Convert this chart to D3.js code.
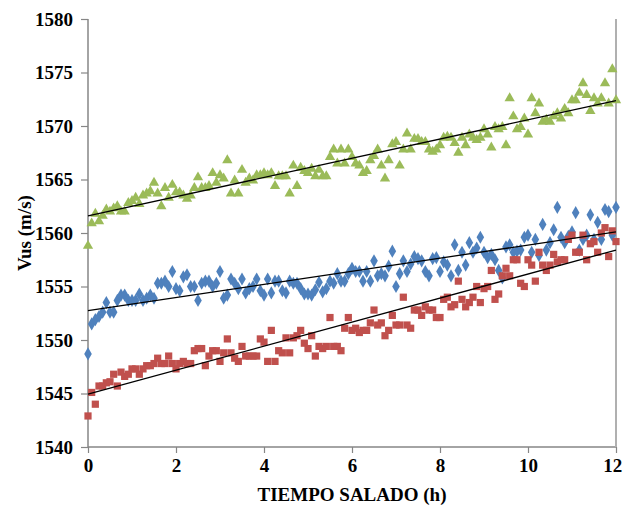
<!DOCTYPE html>
<html><head><meta charset="utf-8">
<script src="https://cdn.jsdelivr.net/npm/d3@7"></script>
<style>
html,body{margin:0;padding:0;background:#fff;}
svg{display:block;font-family:"Times New Roman","Liberation Serif",serif;}
</style></head>
<body><svg id="c" width="624" height="510"></svg>
<script>
// time step: 5 minutes (1/12 h), 145 samples from 0 to 12 h
const stepsPerHour = 12;
const xTicks = [0, 2, 4, 6, 8, 10, 12];
const yTicks = [1540, 1545, 1550, 1555, 1560, 1565, 1570, 1575, 1580];

const greenValues = [
1558.8,1560.9,1561.8,1561.1,1561.6,1562.2,1562.0,1562.3,1562.5,1562.0,
1562.0,1562.8,1563.0,1563.3,1562.7,1563.5,1563.7,1563.9,1564.7,1563.7,
1562.5,1564.2,1563.3,1564.5,1563.8,1563.8,1563.5,1563.2,1563.5,1564.2,
1565.2,1564.2,1564.2,1564.4,1565.6,1564.7,1565.4,1565.1,1566.8,1563.7,
1564.9,1563.7,1565.9,1564.7,1565.1,1564.9,1565.4,1565.4,1565.6,
1565.4,1565.6,1564.4,1565.3,1565.3,1565.3,1563.7,1566.3,1564.4,1566.1,
1565.8,1565.6,1566.0,1565.3,1565.9,1565.3,1565.3,1567.1,1567.8,1566.5,
1567.8,1566.5,1567.8,1567.1,1566.5,1566.3,1565.6,1565.8,1566.8,1567.2,
1567.8,1566.3,1565.1,1566.8,1568.3,1568.5,1566.3,1567.8,1569.3,1567.8,
1568.8,1568.8,1568.5,1568.5,1567.8,1567.6,1567.8,1568.2,
1568.9,1569.0,1568.9,1568.4,1567.5,1568.9,1568.2,1569.2,1568.9,1568.7,
1568.9,1569.7,1569.2,1568.0,1569.9,1569.7,1569.9,1568.2,1572.6,1570.9,
1569.7,1569.9,1570.7,1569.2,1572.6,1571.2,1572.1,1570.4,1570.6,1570.4,
1570.9,1571.2,1570.7,1571.6,1571.2,1572.4,1572.4,1573.1,1574.0,1572.9,
1571.4,1572.6,1572.1,1572.6,1574.0,1572.1,1575.3,1572.4];

const blueValues = [
1548.7,1551.5,1551.9,1552.2,1552.6,1553.5,1552.6,1552.6,1553.7,1554.2,
1554.2,1553.7,1553.7,1553.7,1554.3,1553.7,1553.9,1554.2,1553.9,1555.3,
1555.3,1555.5,1555.0,1556.4,1554.8,1554.6,1555.9,1556.1,1555.0,1555.0,
1553.7,1555.3,1555.5,1555.5,1555.0,1555.3,1556.4,1553.9,1554.2,1555.7,
1555.3,1554.8,1555.7,1554.4,1554.8,1555.0,1555.7,1554.6,1554.2,
1555.7,1554.4,1555.5,1555.5,1554.6,1554.4,1555.5,1555.3,1555.3,1554.8,
1554.3,1554.3,1554.2,1554.7,1555.4,1554.5,1554.8,1555.5,1555.3,1556.2,
1555.5,1555.5,1556.2,1556.7,1556.4,1556.4,1555.5,1556.4,1555.5,1557.4,
1556.0,1556.2,1556.0,1556.9,1558.3,1555.0,1556.2,1557.4,1556.4,1557.1,
1557.8,1557.6,1557.4,1556.4,1556.0,1557.6,1557.7,1556.4,
1557.3,1557.0,1556.0,1558.9,1556.5,1558.2,1557.0,1559.1,1558.2,1558.6,
1559.6,1558.2,1557.7,1558.0,1557.5,1556.5,1555.8,1558.7,1558.9,1558.2,
1558.3,1558.4,1559.6,1559.8,1558.2,1559.4,1557.9,1560.8,1558.4,1559.1,
1560.3,1562.4,1559.6,1559.1,1559.7,1560.1,1561.9,1558.4,1559.4,1559.8,
1561.7,1559.4,1561.0,1559.4,1562.2,1562.0,1559.8,1562.4];

const redValues = [
1542.9,1545.1,1544.0,1545.7,1545.7,1546.0,1546.1,1546.8,1545.7,1547.0,
1546.6,1546.8,1547.3,1547.3,1546.8,1547.3,1547.6,1547.6,1547.8,1548.3,
1547.8,1547.8,1548.5,1547.8,1547.3,1547.8,1548.0,1547.8,1547.8,1549.0,
1549.2,1549.2,1547.6,1548.5,1549.0,1549.0,1548.0,1548.8,1550.1,1548.8,
1548.3,1548.0,1549.4,1548.5,1548.5,1548.5,1548.5,1550.1,1549.8,
1548.0,1550.9,1548.0,1549.0,1548.8,1550.2,1548.8,1550.2,1550.4,1550.9,
1549.7,1549.2,1550.4,1548.5,1549.4,1549.2,1549.4,1552.1,1549.4,1549.4,
1549.0,1551.1,1552.1,1550.9,1551.1,1550.7,1550.9,1550.9,1551.6,1552.8,
1551.4,1551.6,1550.4,1550.9,1552.3,1551.4,1551.4,1554.0,1551.4,1551.1,
1552.8,1552.8,1552.3,1553.1,1552.8,1552.8,1552.1,
1552.1,1553.8,1554.0,1553.1,1553.3,1555.5,1553.8,1553.1,1553.5,1554.0,
1555.0,1553.5,1554.8,1555.0,1556.5,1553.8,1554.3,1556.0,1556.7,1556.0,
1557.5,1557.5,1555.3,1555.0,1557.5,1557.0,1555.5,1558.2,1557.0,1556.5,
1557.0,1558.0,1557.3,1557.5,1557.5,1559.4,1559.8,1558.2,1558.2,1559.8,
1557.5,1559.0,1559.2,1558.2,1560.0,1560.5,1557.8,1560.2,1559.2];

const xTitle = "TIEMPO SALADO (h)";
const yTitle = "Vus (m/s)";

const svg = d3.select("#c");
const L = 88, R = 616, T = 19, B = 447;
const x = d3.scaleLinear().domain([0, 12]).range([L, R]);
const y = d3.scaleLinear().domain([1540, 1580]).range([B, T]);
const axisColor = "#868686";

function toPts(vals){ return vals.map((v,i)=>({t:i/stepsPerHour, v})); }
function fit(pts){
  const mx = d3.mean(pts,d=>d.t), my = d3.mean(pts,d=>d.v);
  let sxy=0,sxx=0; pts.forEach(d=>{sxy+=(d.t-mx)*(d.v-my); sxx+=(d.t-mx)*(d.t-mx);});
  const b = sxy/sxx, a = my - b*mx; return t=>a+b*t;
}

// axes
const yAxis = svg.append("g").attr("transform",`translate(${L},0)`)
  .call(d3.axisLeft(y).tickValues(yTicks).tickSize(7).tickPadding(8).tickFormat(d3.format("d")));
const xAxis = svg.append("g").attr("transform",`translate(0,${B})`)
  .call(d3.axisBottom(x).tickValues(xTicks).tickSize(6).tickPadding(6).tickFormat(d3.format("d")));
[yAxis,xAxis].forEach(g=>{
  g.select(".domain").attr("stroke",axisColor).attr("stroke-width",1.5);
  g.selectAll(".tick line").attr("stroke",axisColor).attr("stroke-width",1.2);
  g.selectAll(".tick text").attr("fill","#000").attr("font-size",19).attr("font-weight","bold")
    .attr("font-family","'Times New Roman','Liberation Serif',serif");
});
// keep the last x label inside the canvas, as in the reference
xAxis.selectAll(".tick text").filter(d=>d===12).attr("text-anchor","end").attr("dx","0.3em");
xAxis.select(".domain").attr("d",`M${L},0H${R}`);
yAxis.select(".domain").attr("d",`M0,${T}V${B}`);
// right border
svg.append("line").attr("x1",R).attr("x2",R).attr("y1",T).attr("y2",B)
  .attr("stroke","#b0b0b0").attr("stroke-width",2);

const series = [
  {vals: blueValues, color:"#4F81BD", shape:"diamond"},
  {vals: redValues, color:"#C0504D", shape:"square"},
  {vals: greenValues, color:"#9BBB59", shape:"triangle"}
];
const sym = {
  diamond: d3.symbol().type(d3.symbolDiamond).size(50)(),
  square: d3.symbol().type(d3.symbolSquare).size(52)(),
  triangle: d3.symbol().type(d3.symbolTriangle).size(46)()
};
series.forEach(s=>{
  const pts = toPts(s.vals);
  svg.append("g").selectAll("path").data(pts).join("path")
    .attr("d", sym[s.shape])
    .attr("transform", d=>`translate(${x(d.t)},${y(d.v)})`)
    .attr("fill", s.color);
});
series.forEach(s=>{
  const pts = toPts(s.vals); const f = fit(pts);
  svg.append("line").attr("x1",x(0)).attr("y1",y(f(0))).attr("x2",x(12)).attr("y2",y(f(12)))
    .attr("stroke","#000").attr("stroke-width",1.3);
});

svg.append("text").attr("x",(L+R)/2).attr("y",501).attr("text-anchor","middle")
  .attr("font-size",19).attr("font-weight","bold").text(xTitle);
svg.append("text").attr("transform",`translate(31,${(T+B)/2}) rotate(-90)`)
  .attr("text-anchor","middle").attr("font-size",19).attr("font-weight","bold").text(yTitle);
</script></body></html>
